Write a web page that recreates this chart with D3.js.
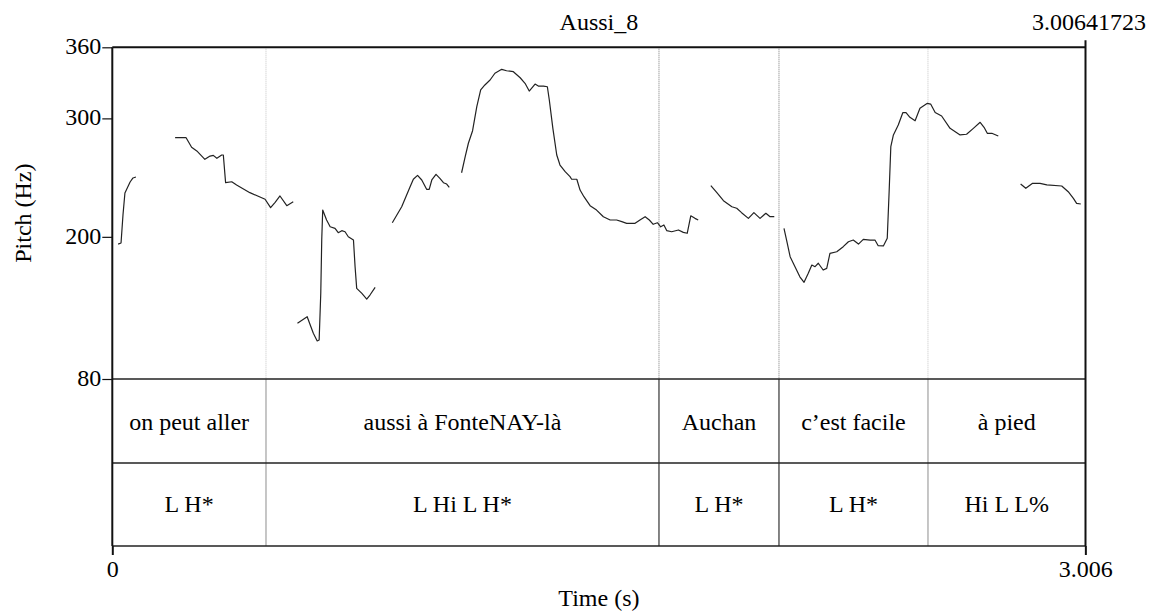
<!DOCTYPE html>
<html>
<head>
<meta charset="utf-8">
<script src="https://cdn.jsdelivr.net/npm/d3@7"></script>
<style>
  html, body { margin: 0; padding: 0; background: #fff; }
  svg { display: block; }
  text { font-family: "Liberation Serif", "Times New Roman", serif; fill: #000; }
</style>
</head>
<body>
<svg id="chart" width="1151" height="613"></svg>
<script>
// Sound name and total duration
const title = "Aussi_8";
const duration = 3.00641723;

// Pitch axis ticks (Hz) and time axis ticks (s)
const pitchTicks = [80, 200, 300, 360];
const timeTicks = [0, 3.006];

// Pitch track: voiced stretches, each as [time (s), F0 (Hz)]
const voiced1 = [[0.018,193.9],[0.027,194.8],[0.033,218.4],[0.039,237.0],[0.055,246.3],[0.064,249.7],[0.073,250.5]];
const voiced2 = [[0.194,283.7],[0.228,283.7],[0.245,275.6],[0.261,272.5],[0.286,265.4],[0.302,268.2],[0.312,268.8],[0.323,266.3],[0.338,269.1],[0.343,269.1],[0.350,245.7],[0.369,246.5],[0.384,243.8],[0.425,237.3],[0.472,231.7],[0.489,224.6],[0.503,229.1],[0.518,234.5],[0.539,226.3],[0.559,229.7]];
const voiced3 = [[0.572,127.0],[0.602,132.6],[0.621,118.6],[0.633,112.1],[0.639,112.9],[0.644,152.3],[0.647,197.3],[0.650,222.6],[0.662,214.2],[0.673,208.5],[0.688,207.2],[0.698,203.5],[0.709,205.2],[0.719,204.3],[0.729,200.1],[0.745,197.3],[0.750,174.8],[0.755,156.5],[0.771,152.3],[0.786,147.5],[0.796,150.9],[0.812,157.4]];
const voiced4 = [[0.865,211.9],[0.894,225.4],[0.920,242.3],[0.930,248.6],[0.943,251.9],[0.956,248.0],[0.971,240.1],[0.979,240.1],[0.987,248.0],[1.000,252.8],[1.012,249.4],[1.023,245.7],[1.033,244.6],[1.041,241.8]];
const voiced5 = [[1.079,254.1],[1.090,267.6],[1.100,279.0],[1.113,289.6],[1.126,309.9],[1.138,324.0],[1.151,328.2],[1.167,332.4],[1.182,338.1],[1.203,341.4],[1.218,340.2],[1.239,339.4],[1.260,334.3],[1.275,329.6],[1.288,323.1],[1.306,329.0],[1.316,327.3],[1.332,327.3],[1.344,326.7],[1.350,315.5],[1.361,291.6],[1.373,269.1],[1.383,260.6],[1.399,255.0],[1.414,250.8],[1.419,248.6],[1.435,248.6],[1.445,239.5],[1.457,233.9],[1.476,226.3],[1.496,222.6],[1.517,217.0],[1.538,214.2],[1.558,214.2],[1.574,212.8],[1.589,211.4],[1.615,211.4],[1.630,214.2],[1.646,217.0],[1.659,214.2],[1.671,210.6],[1.684,211.9],[1.694,208.5],[1.704,210.0],[1.713,205.2],[1.728,204.3],[1.749,205.8],[1.764,203.8],[1.776,203.0],[1.787,217.8],[1.800,215.6],[1.810,214.2]];
const voiced6 = [[1.849,243.2],[1.867,237.6],[1.888,230.5],[1.914,225.4],[1.929,224.1],[1.944,220.4],[1.965,215.6],[1.982,220.4],[2.001,215.6],[2.019,219.9],[2.032,217.0],[2.045,217.0]];
const voiced7 = [[2.075,207.2],[2.083,197.3],[2.094,183.2],[2.109,174.8],[2.124,166.3],[2.137,161.6],[2.150,169.2],[2.161,176.2],[2.171,174.8],[2.181,177.7],[2.196,172.0],[2.207,173.4],[2.217,186.1],[2.238,187.4],[2.258,191.7],[2.274,195.9],[2.289,197.3],[2.305,193.9],[2.320,197.9],[2.341,197.3],[2.356,197.3],[2.366,192.5],[2.382,192.3],[2.394,198.8],[2.400,239.5],[2.405,276.1],[2.413,286.0],[2.428,294.4],[2.442,304.8],[2.452,304.8],[2.464,300.9],[2.480,298.0],[2.495,308.5],[2.518,312.7],[2.528,312.1],[2.542,305.0],[2.562,302.0],[2.588,291.6],[2.619,286.0],[2.639,286.6],[2.660,291.6],[2.681,296.7],[2.693,292.5],[2.703,287.4],[2.717,287.4],[2.737,285.1]];
const voiced8 = [[2.806,244.6],[2.822,241.0],[2.843,245.2],[2.866,245.2],[2.887,243.8],[2.933,242.9],[2.953,238.1],[2.969,232.5],[2.979,228.3],[2.992,227.7]];
const pitchSegments = [voiced1, voiced2, voiced3, voiced4, voiced5, voiced6, voiced7, voiced8];

// Interval tiers: boundary times (s) and labels
const boundaries = [0.4748, 1.6888, 2.0595, 2.5198];
const boundaryMajor = [false, true, true, false];
const wordLabels = ["on peut aller", "aussi à FonteNAY-là", "Auchan", "c\u2019est facile", "à pied"];
const toneLabels = ["L H*", "L Hi L H*", "L H*", "L H*", "Hi L L%"];

const svg = d3.select("#chart");

const left = 112.3, right = 1085.5;
const pitchTop = 47.3, pitchBottom = 379;
const tierMid = 463, tierBottom = 546;
const fontSize = "24px";

const x = d3.scaleLinear().domain([0, duration]).range([left, right]);
const y = d3.scaleLinear().domain([80, 360]).range([pitchBottom, pitchTop]);

// Boundary lines across the pitch area (dotted)
svg.append("g").selectAll("line").data(boundaries).join("line")
  .attr("x1", d => x(d)).attr("x2", d => x(d))
  .attr("y1", pitchTop).attr("y2", pitchBottom)
  .attr("stroke", (d, i) => boundaryMajor[i] ? "#777" : "#c4c4c4")
  .attr("stroke-width", 1)
  .attr("stroke-dasharray", "1,1");

// Boundary lines inside the tiers (solid)
svg.append("g").selectAll("line").data(boundaries).join("line")
  .attr("x1", d => x(d)).attr("x2", d => x(d))
  .attr("y1", pitchBottom).attr("y2", tierBottom)
  .attr("stroke", (d, i) => boundaryMajor[i] ? "#333" : "#a0a0a0")
  .attr("stroke-width", 1.2);

// Pitch contour
const line = d3.line().x(d => x(d[0])).y(d => y(d[1]));
svg.append("g").selectAll("path").data(pitchSegments).join("path")
  .attr("d", line)
  .attr("fill", "none")
  .attr("stroke", "#222")
  .attr("stroke-width", 1.2)
  .attr("stroke-linejoin", "round");

// Tier separators
[pitchBottom, tierMid, tierBottom].forEach(yy => {
  svg.append("line").attr("x1", left).attr("x2", right).attr("y1", yy).attr("y2", yy)
    .attr("stroke", "#222").attr("stroke-width", 1.3);
});

// Frame: top line, left and right borders
svg.append("line").attr("x1", left).attr("x2", right).attr("y1", pitchTop).attr("y2", pitchTop)
  .attr("stroke", "#111").attr("stroke-width", 2);
svg.append("line").attr("x1", left).attr("x2", left).attr("y1", pitchTop).attr("y2", tierBottom)
  .attr("stroke", "#111").attr("stroke-width", 2);
svg.append("line").attr("x1", right).attr("x2", right).attr("y1", pitchTop - 7).attr("y2", tierBottom)
  .attr("stroke", "#111").attr("stroke-width", 2);

// Pitch axis
const yAxis = d3.axisLeft(y).tickValues(pitchTicks).tickSize(10).tickPadding(1).tickFormat(d3.format("d"));
const gy = svg.append("g").attr("transform", `translate(${left},0)`).call(yAxis);
gy.select(".domain").remove();
gy.selectAll(".tick line").attr("stroke", "#111").attr("stroke-width", 1.2);
gy.selectAll(".tick text").attr("dy", "0.27em")
  .style("font-size", fontSize).style("font-family", "Liberation Serif").attr("fill", "#000");

// Time axis
const xAxis = d3.axisBottom(x).tickValues(timeTicks).tickSize(9).tickPadding(5).tickFormat(d => d === 0 ? "0" : d3.format(".3f")(d));
const gx = svg.append("g").attr("transform", `translate(0,${tierBottom})`).call(xAxis);
gx.select(".domain").remove();
gx.selectAll(".tick line").attr("stroke", "#111").attr("stroke-width", 2);
gx.selectAll(".tick text")
  .style("font-size", fontSize).style("font-family", "Liberation Serif").attr("fill", "#000");

// Interval labels
const edges = [0, ...boundaries, duration];
const mids = edges.slice(0, -1).map((d, i) => (d + edges[i + 1]) / 2);
svg.append("g").selectAll("text").data(wordLabels).join("text")
  .attr("x", (d, i) => x(mids[i])).attr("y", 430)
  .attr("text-anchor", "middle")
  .style("font-size", fontSize).text(d => d);
svg.append("g").selectAll("text").data(toneLabels).join("text")
  .attr("x", (d, i) => x(mids[i])).attr("y", 512)
  .attr("text-anchor", "middle")
  .style("font-size", fontSize).text(d => d);

// Titles
svg.append("text").attr("x", (left + right) / 2).attr("y", 30)
  .attr("text-anchor", "middle")
  .style("font-size", fontSize).text(title);
svg.append("text").attr("x", 1146).attr("y", 30)
  .attr("text-anchor", "end")
  .style("font-size", fontSize).text(duration.toFixed(8));
svg.append("text").attr("x", (left + right) / 2).attr("y", 606)
  .attr("text-anchor", "middle")
  .style("font-size", fontSize).text("Time (s)");
svg.append("text").attr("transform", `translate(31,${(pitchTop + pitchBottom) / 2}) rotate(-90)`)
  .attr("text-anchor", "middle")
  .style("font-size", fontSize).text("Pitch (Hz)");
</script>
</body>
</html>
